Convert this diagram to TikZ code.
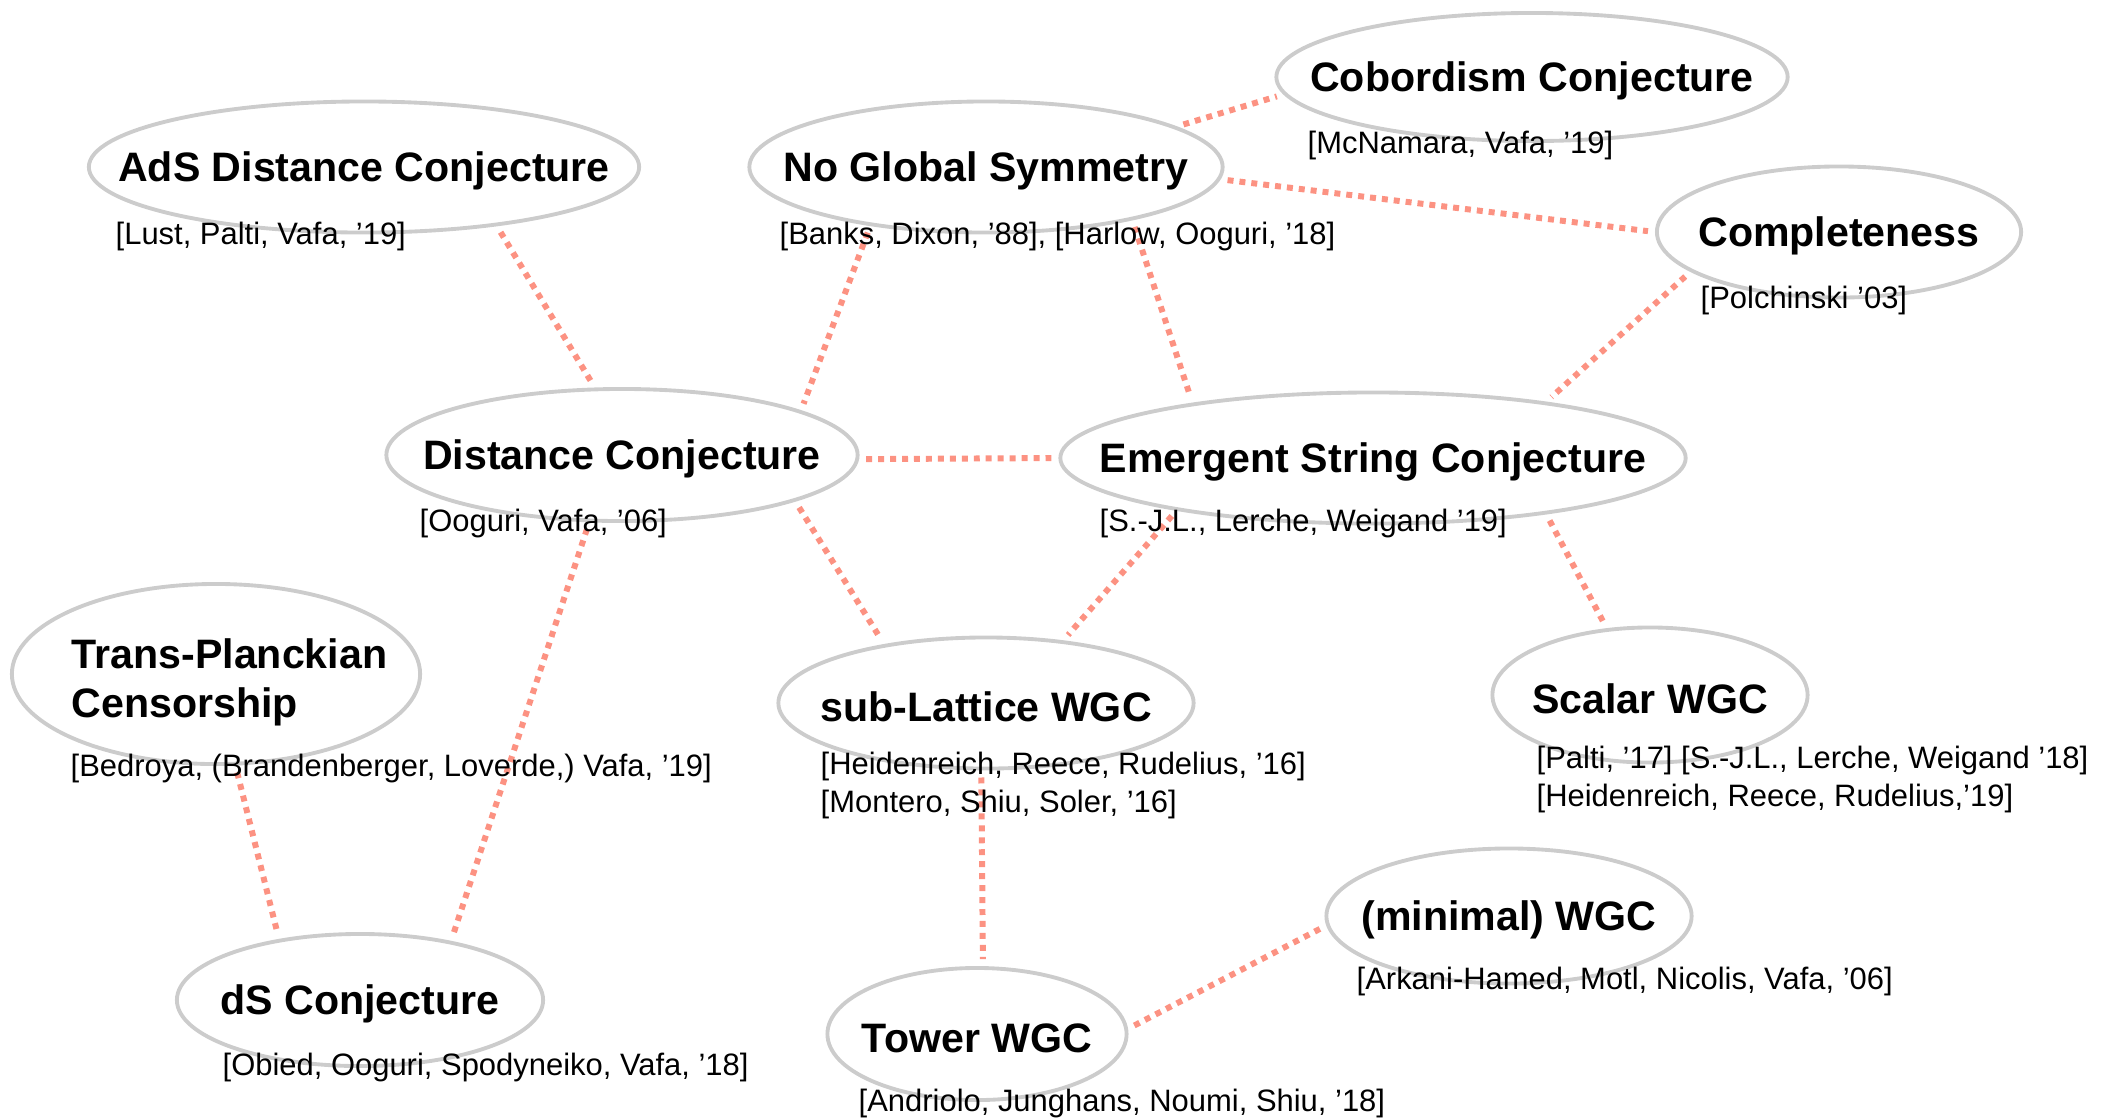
\documentclass[tikz,border=0pt]{standalone}
\usepackage{fontspec}
\setmainfont{Liberation Sans}
\usepackage{tikz}
\usetikzlibrary{shapes.geometric}

\definecolor{ringgray}{RGB}{204,204,204}
\definecolor{linksalmon}{RGB}{252,146,130}
\newcommand{\titlesize}{\fontsize{11.7}{13.8}\selectfont\bfseries}
\newcommand{\citesize}{\fontsize{8.8}{10.7}\selectfont}

\begin{document}
\begin{tikzpicture}[x=0.01cm, y=-0.01cm,
    bubble/.style={ellipse, draw=ringgray, line width=1.1pt, inner sep=0pt},
    title/.style={font=\titlesize, inner sep=0pt, yshift=-1.2pt},
    cite/.style={font=\citesize, anchor=west, inner sep=0pt, align=left, yshift=-1.2pt},
    link/.style={draw=linksalmon, line width=1.7pt, dash pattern=on 1.7pt off 1.7pt,
                 shorten <=2pt, shorten >=2pt}]
    \useasboundingbox (0,0) rectangle (2112,1117);
    % top row
    \node [bubble, minimum width=5.50cm, minimum height=1.31cm] (ads)  at (364,167)  {};
    \node [bubble, minimum width=4.73cm, minimum height=1.31cm] (ngs)  at (986,167)  {};
    \node [bubble, minimum width=5.11cm, minimum height=1.28cm] (cob)  at (1532,77)  {};
    \node [bubble, minimum width=3.64cm, minimum height=1.31cm] (comp) at (1839,232) {};
    % middle row
    \node [bubble, minimum width=4.71cm, minimum height=1.32cm] (dist) at (622,455)  {};
    \node [bubble, minimum width=6.25cm, minimum height=1.31cm] (emer) at (1373,458) {};
    \node [bubble, minimum width=4.08cm, minimum height=1.80cm] (tpc)  at (216,674)  {};
    \node [bubble, minimum width=4.15cm, minimum height=1.31cm] (subl) at (986,703)  {};
    \node [bubble, minimum width=3.15cm, minimum height=1.35cm] (scal) at (1650,695) {};
    % bottom row
    \node [bubble, minimum width=3.65cm, minimum height=1.35cm] (minw) at (1509,916) {};
    \node [bubble, minimum width=3.66cm, minimum height=1.32cm] (ds)   at (360,1000) {};
    \node [bubble, minimum width=2.99cm, minimum height=1.32cm] (tow)  at (977,1034) {};

    % links
    \draw [link] (ads.-24)  -- (dist.112);
    \draw [link] (ngs.207)  -- (dist.14);
    \draw [link] (ngs.-20)  -- (emer.163);
    \draw [link] (ngs.12)   -- (cob.184);
    \draw [link] (ngs.-3)   -- (comp.180);
    \draw [link] (comp.195) -- (emer.18);
    \draw [link] (dist.-1)  -- (emer.180);
    \draw [link] (dist.-15) -- (subl.150);
    \draw [link] (dist.244) -- (ds.33);
    \draw [link] (tpc.282)  -- (ds.143);
    \draw [link] (emer.195) -- (subl.39);
    \draw [link] (emer.-18) -- (scal.123);
    \draw [link] (subl.266) -- (tow.85);
    \draw [link] (tow.2)    -- (minw.183);

    % titles
    \node [title] (ads-t)  at (ads)  {AdS Distance Conjecture};
    \node [title] (ngs-t)  at (ngs)  {No Global Symmetry};
    \node [title] (cob-t)  at (cob)  {Cobordism Conjecture};
    \node [title] (comp-t) at (comp) {Completeness};
    \node [title] (dist-t) at (dist) {Distance Conjecture};
    \node [title] (emer-t) at (emer) {Emergent String Conjecture};
    \node [title, anchor=west, align=left] (tpc-t) at (71,678) {Trans-Planckian\\Censorship};
    \node [title] (subl-t) at (subl) {sub-Lattice WGC};
    \node [title] (scal-t) at (scal) {Scalar WGC};
    \node [title] (minw-t) at (minw) {(minimal) WGC};
    \node [title] (ds-t)   at (ds)   {dS Conjecture};
    \node [title] (tow-t)  at (tow)  {Tower WGC};

    % references
    \node [cite] (ads-r)  at (115,232)  {[Lust, Palti, Vafa, '19]};
    \node [cite] (ngs-r)  at (779,232)  {[Banks, Dixon, '88], [Harlow, Ooguri, '18]};
    \node [cite] (cob-r)  at (1307,141) {[McNamara, Vafa, '19]};
    \node [cite] (comp-r) at (1700,296) {[Polchinski '03]};
    \node [cite] (dist-r) at (419,519)  {[Ooguri, Vafa, '06]};
    \node [cite] (emer-r) at (1099,519) {[S.-J.L., Lerche, Weigand '19]};
    \node [cite] (tpc-r)  at (70,764)   {[Bedroya, (Brandenberger, Loverde,) Vafa, '19]};
    \node [cite] (subl-r) at (820,781)  {[Heidenreich, Reece, Rudelius, '16]\\{}[Montero, Shiu, Soler, '16]};
    \node [cite] (scal-r) at (1536,775) {[Palti, '17] [S.-J.L., Lerche, Weigand '18]\\{}[Heidenreich, Reece, Rudelius,'19]};
    \node [cite] (minw-r) at (1356,977) {[Arkani-Hamed, Motl, Nicolis, Vafa, '06]};
    \node [cite] (ds-r)   at (222,1063) {[Obied, Ooguri, Spodyneiko, Vafa, '18]};
    \node [cite] (tow-r)  at (858,1099) {[Andriolo, Junghans, Noumi, Shiu, '18]};
\end{tikzpicture}
\end{document}
